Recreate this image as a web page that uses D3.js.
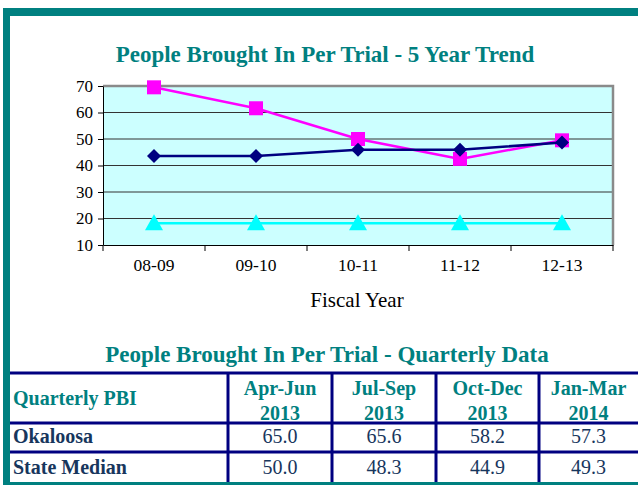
<!DOCTYPE html>
<html><head><meta charset="utf-8">
<script src="https://cdnjs.cloudflare.com/ajax/libs/d3/7.8.5/d3.min.js"></script>
<style>body{margin:0;background:#fff}svg{display:block}</style>
</head><body>
<script>
const categories = ["08-09","09-10","10-11","11-12","12-13"];
const pinkSeries = [69.5, 61.6, 50.0, 42.5, 49.5];
const navySeries = [43.6, 43.6, 45.9, 45.9, 48.7];
const cyanSeries = [18.2, 18.2, 18.2, 18.2, 18.2];
const yTicks = [10,20,30,40,50,60,70];
const quarterHeaders = [["Apr-Jun","2013"],["Jul-Sep","2013"],["Oct-Dec","2013"],["Jan-Mar","2014"]];
const rowLabels = ["Okaloosa","State Median"];
const okaloosaQ = ["65.0","65.6","58.2","57.3"];
const stateMedianQ = ["50.0","48.3","44.9","49.3"];

const W=638,H=485;
const svg=d3.select("body").append("svg").attr("width",W).attr("height",H);
const teal="#008080", navy="#000080", serif="'Liberation Serif','Times New Roman',serif";

// frame
svg.append("rect").attr("x",3).attr("y",8).attr("width",W-3).attr("height",8).attr("fill",teal);
svg.append("rect").attr("x",3).attr("y",8).attr("width",7).attr("height",H-8).attr("fill",teal);
svg.append("rect").attr("x",3).attr("y",482).attr("width",W-3).attr("height",3).attr("fill",teal);

svg.append("text").attr("x",325).attr("y",62).attr("text-anchor","middle")
  .attr("font-family",serif).attr("font-weight","bold").attr("font-size",23).attr("fill",teal)
  .text("People Brought In Per Trial - 5 Year Trend");

const L=103,R=613,T=86,B=245;
const x=d3.scaleBand().domain(categories).range([L,R]);
const y=d3.scaleLinear().domain([10,70]).range([B,T]);
const g=svg.append("g");
g.append("rect").attr("x",L).attr("y",T).attr("width",R-L).attr("height",B-T).attr("fill","#CCFFFF");
g.selectAll("line.grid").data(yTicks.filter(d=>d>10&&d<70)).join("line")
  .attr("x1",L).attr("x2",R).attr("y1",d=>y(d)).attr("y2",d=>y(d)).attr("stroke","#333").attr("stroke-width",1.2);
g.append("path").attr("d",`M${L},${T}H${R}V${B}`).attr("fill","none").attr("stroke","#8a8a8a").attr("stroke-width",2.5);

const ya=g.append("g").attr("transform",`translate(${L},0)`).call(d3.axisLeft(y).tickValues(yTicks).tickSize(5).tickSizeOuter(0));
ya.select(".domain").attr("stroke","#000");
ya.selectAll("text").attr("font-family",serif).attr("font-size",17).attr("fill","#000").attr("dx",-2);
const xa=g.append("g").attr("transform",`translate(0,${B})`).call(d3.axisBottom(x).tickSize(0).tickPadding(14).tickSizeOuter(0));
xa.select(".domain").attr("stroke","#000");
xa.selectAll("text").attr("font-family",serif).attr("font-size",17.5).attr("fill","#000");
g.selectAll("line.xt").data(categories.map(c=>x(c)).concat([R])).join("line")
  .attr("x1",d=>d).attr("x2",d=>d).attr("y1",B).attr("y2",B+6).attr("stroke","#000");
svg.append("text").attr("x",357).attr("y",307).attr("text-anchor","middle").attr("font-family",serif)
  .attr("font-size",21).attr("fill","#000").text("Fiscal Year");

const cx=c=>x(c)+x.bandwidth()/2;
const line=d3.line().x((d,i)=>cx(categories[i])).y(d=>y(d));
function series(vals,color,shape){
  g.append("path").attr("d",line(vals)).attr("fill","none").attr("stroke",color).attr("stroke-width",2.5);
  g.selectAll(null).data(vals).join("path")
    .attr("transform",(d,i)=>`translate(${cx(categories[i])},${y(d)})`)
    .attr("d",shape).attr("fill",color);
}
series(cyanSeries,"#00FFFF","M0,-9L9,7H-9Z");
series(pinkSeries,"#FF00FF","M-7,-7H7V7H-7Z");
series(navySeries,navy,"M0,-7L7,0L0,7L-7,0Z");

// table
svg.append("text").attr("x",327).attr("y",362).attr("text-anchor","middle")
  .attr("font-family",serif).attr("font-weight","bold").attr("font-size",23).attr("fill",teal)
  .text("People Brought In Per Trial - Quarterly Data");
const colX=[10,228,332,436,539,W];
const rowY=[373,423,452,482];
const tg=svg.append("g");
tg.selectAll("line.h").data(rowY.slice(0,3)).join("line")
  .attr("x1",10).attr("x2",W).attr("y1",d=>d).attr("y2",d=>d).attr("stroke",navy).attr("stroke-width",3);
tg.selectAll("line.v").data(colX.slice(1,5)).join("line")
  .attr("x1",d=>d).attr("x2",d=>d).attr("y1",373).attr("y2",482).attr("stroke",navy).attr("stroke-width",3);
tg.append("text").attr("x",13).attr("y",405).attr("font-family",serif).attr("font-weight","bold")
  .attr("font-size",20).attr("fill",teal).text("Quarterly PBI");
quarterHeaders.forEach((h,i)=>{
  const mx=(colX[i+1]+colX[i+2])/2;
  h.forEach((t,j)=>tg.append("text").attr("x",mx).attr("y",395+j*25).attr("text-anchor","middle")
    .attr("font-family",serif).attr("font-weight","bold").attr("font-size",20).attr("fill",teal).text(t));
});
[okaloosaQ,stateMedianQ].forEach((vals,r)=>{
  const by=[443,474][r];
  tg.append("text").attr("x",13).attr("y",by).attr("font-family",serif).attr("font-weight","bold")
    .attr("font-size",20).attr("fill","#17365d").text(rowLabels[r]);
  vals.forEach((v,i)=>tg.append("text").attr("x",(colX[i+1]+colX[i+2])/2).attr("y",by).attr("text-anchor","middle")
    .attr("font-family",serif).attr("font-size",20).attr("fill","#17365d").text(v));
});
</script>
</body></html>
